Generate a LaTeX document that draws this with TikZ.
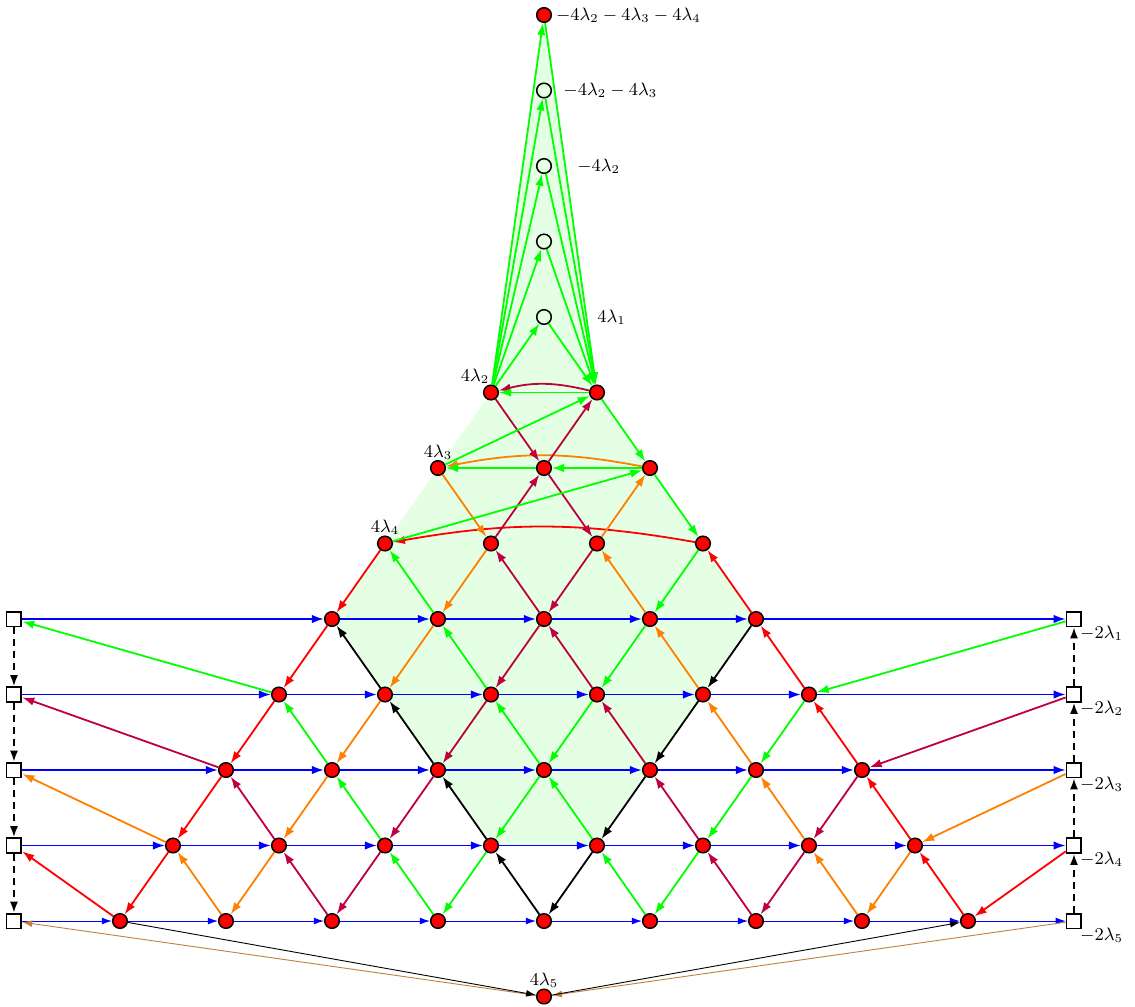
\documentclass[tikz,border=0pt]{standalone}
\usetikzlibrary{arrows.meta,backgrounds}
\begin{document}
\begin{tikzpicture}[x=26.5pt,y=-37.75pt,
  rn/.style={circle,draw=black,fill=red,line width=0.75pt,minimum size=7.3pt,inner sep=0pt},
  on/.style={circle,draw=black,line width=0.75pt,minimum size=7.3pt,inner sep=0pt},
  sq/.style={rectangle,draw=black,fill=white,line width=0.9pt,minimum size=7.4pt,inner sep=0pt},
  ar/.style={line width=0.9pt,-{Latex[length=6pt,width=4.2pt]}},
  tar/.style={line width=0.45pt,-{Latex[length=5pt,width=3.4pt]}},
  dar/.style={line width=0.9pt,dash pattern=on 3.5pt off 2.5pt,-{Latex[length=5.5pt,width=4pt]}},
  lab/.style={font=\small,inner sep=0pt},
  ]
\useasboundingbox (-10.264,-0.1987) rectangle (11.151,13.126);

% nodes
\node[rn] (t0) at (0,0) {};
\foreach \r in {1,...,4} \node[on] (o\r) at (0,\r) {};
\foreach \r in {5,...,12}{
  \pgfmathtruncatemacro\kk{\r-4}
  \pgfmathtruncatemacro\ka{-\kk}
  \pgfmathtruncatemacro\kb{-\kk+2}
  \foreach \c in {\ka,\kb,...,\kk} \node[rn] (n\c_\r) at (\c,\r) {};
}
\node[rn] (b) at (0,13) {};
\foreach \r in {8,...,12}{
  \node[sq] (sL\r) at (-10,\r) {};
  \node[sq] (sR\r) at (10,\r) {};
}

% shading
\begin{scope}[on background layer]
\fill[green!10] (t0.center) -- (n-1_5.center) -- (n-4_8.center) -- (n-1_11.center)
  -- (n1_11.center) -- (n4_8.center) -- (n1_5.center) -- cycle;
\end{scope}

% labels
\node[lab,anchor=west] (l0) at (0.22,0) {$-4\lambda_2-4\lambda_3-4\lambda_4$};
\node[lab,anchor=west] (l1) at (0.36,1) {$-4\lambda_2-4\lambda_3$};
\node[lab,anchor=west] (l2) at (0.62,2) {$-4\lambda_2$};
\node[lab,anchor=west] (l4) at (1.0,4) {$4\lambda_1$};
\node[lab] (la) at (-1.30,4.78) {$4\lambda_2$};
\node[lab] (lb) at (-2,5.79) {$4\lambda_3$};
\node[lab] (lc) at (-3,6.79) {$4\lambda_4$};
\node[lab] (ld) at (0,12.79) {$4\lambda_5$};
\foreach \r/\i in {8/1,9/2,10/3,11/4,12/5}
  \node[lab,anchor=west] (lr\i) at (10.11,\r+0.185) {$-2\lambda_{\i}$};

% top green fan
\foreach \o in {o4,o3,o2,o1,t0}{
  \draw[ar,green] (n-1_5) -- (\o);
  \draw[ar,green] (\o) -- (n1_5);
}

% curved arrows
\draw[ar,purple] (n1_5) to[bend right=14] (n-1_5);
\draw[ar,orange] (n2_6) to[bend right=11] (n-2_6);
\draw[ar,red] (n3_7) to[bend right=10] (n-3_7);

% straight diagonal / horizontal arrows
\foreach \f/\t/\cl in {
  n1_5/n-1_5/green, n-1_5/n0_6/purple, n0_6/n1_5/purple,
  n-2_6/n1_5/green, n1_5/n2_6/green, n2_6/n0_6/green, n0_6/n-2_6/green,
  n-2_6/n-1_7/orange, n-1_7/n0_6/purple, n0_6/n1_7/purple, n1_7/n2_6/orange,
  n2_6/n3_7/green, n-3_7/n2_6/green,
  n-3_7/n-4_8/red, n-2_8/n-3_7/green, n-1_7/n-2_8/orange, n0_8/n-1_7/purple,
  n1_7/n0_8/purple, n2_8/n1_7/orange, n3_7/n2_8/green, n4_8/n3_7/red,
  n-4_8/n-5_9/red, n-3_9/n-4_8/black, n-2_8/n-3_9/orange, n-1_9/n-2_8/green,
  n0_8/n-1_9/purple, n1_9/n0_8/purple, n2_8/n1_9/green, n3_9/n2_8/orange,
  n4_8/n3_9/black, n5_9/n4_8/red,
  n-5_9/n-6_10/red, n-4_10/n-5_9/green, n-3_9/n-4_10/orange, n-2_10/n-3_9/black,
  n-1_9/n-2_10/purple, n0_10/n-1_9/green, n1_9/n0_10/green, n2_10/n1_9/purple,
  n3_9/n2_10/black, n4_10/n3_9/orange, n5_9/n4_10/green, n6_10/n5_9/red,
  n-6_10/n-7_11/red, n-5_11/n-6_10/purple, n-4_10/n-5_11/orange, n-3_11/n-4_10/green,
  n-2_10/n-3_11/purple, n-1_11/n-2_10/black, n0_10/n-1_11/green, n1_11/n0_10/green,
  n2_10/n1_11/black, n3_11/n2_10/purple, n4_10/n3_11/green, n5_11/n4_10/orange,
  n6_10/n5_11/purple, n7_11/n6_10/red,
  n-7_11/n-8_12/red, n-6_12/n-7_11/orange, n-5_11/n-6_12/orange, n-4_12/n-5_11/purple,
  n-3_11/n-4_12/purple, n-2_12/n-3_11/green, n-1_11/n-2_12/green, n0_12/n-1_11/black,
  n1_11/n0_12/black, n2_12/n1_11/green, n3_11/n2_12/green, n4_12/n3_11/purple,
  n5_11/n4_12/purple, n6_12/n5_11/orange, n7_11/n6_12/orange, n8_12/n7_11/red,
  n-5_9/sL8/green, n-6_10/sL9/purple, n-7_11/sL10/orange, n-8_12/sL11/red,
  sR8/n5_9/green, sR9/n6_10/purple, sR10/n7_11/orange, sR11/n8_12/red}
  \draw[ar,\cl] (\f) -- (\t);

% blue horizontal rows
\foreach \r in {8,...,11}{
  \pgfmathtruncatemacro\kk{\r-4}
  \pgfmathtruncatemacro\ka{-\kk}
  \draw[ar,blue] (sL\r) -- (n\ka_\r);
  \draw[ar,blue] (n\kk_\r) -- (sR\r);
  \foreach \i in {1,...,\kk}{
    \pgfmathtruncatemacro\cA{2*\i-2-\kk}
    \pgfmathtruncatemacro\cB{2*\i-\kk}
    \draw[ar,blue] (n\cA_\r) -- (n\cB_\r);
  }
}
\draw[tar,blue] (sL12) -- (n-8_12);
\draw[tar,blue] (n8_12) -- (sR12);
\foreach \i in {1,...,8}{
  \pgfmathtruncatemacro\cA{2*\i-10}
  \pgfmathtruncatemacro\cB{2*\i-8}
  \draw[tar,blue] (n\cA_12) -- (n\cB_12);
}

% dashed verticals
\foreach \r in {8,...,11}{
  \pgfmathtruncatemacro\rn{\r+1}
  \draw[dar] (sL\r) -- (sL\rn);
  \draw[dar] (sR\rn) -- (sR\r);
}

% bottom thin lines
\draw[tar,brown] (b) -- (sL12);
\draw[tar,black] (n-8_12) -- (b);
\draw[tar,brown] (sR12) -- (b);
\draw[tar,black] (b) -- (n8_12);
\end{tikzpicture}
\end{document}
